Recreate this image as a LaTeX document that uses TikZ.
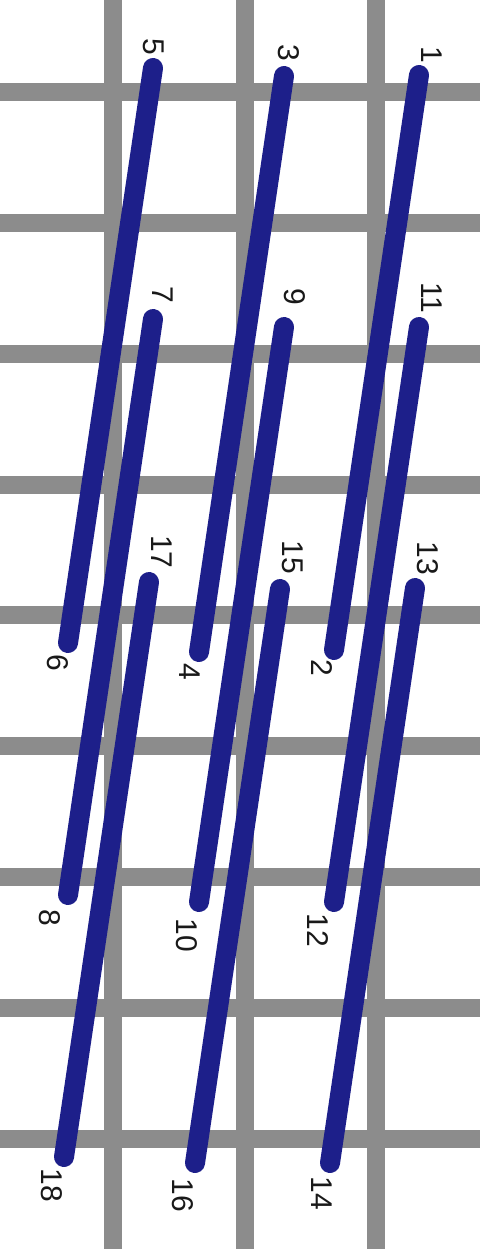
\documentclass[tikz,border=0pt]{standalone}
\usepackage{fontspec}
\setmainfont{Liberation Sans}
\definecolor{gridgray}{HTML}{8C8C8C}
\definecolor{barblue}{HTML}{1D1F8A}
\tikzset{
  gridline/.style={draw=gridgray, line width=18pt},
  bar/.style={draw=barblue, line width=20pt, line cap=round},
  lbl/.style={rotate=-90, font=\fontsize{30}{30}\selectfont, text=black!90, inner sep=0pt}
}
\begin{document}
\begin{tikzpicture}[x=1pt,y=-1pt]
\useasboundingbox (0,0) rectangle (480,1249);
\fill[white] (0,0) rectangle (480,1249);
% grid
\foreach \x in {113,245,376} \draw[gridline] (\x,0) -- (\x,1249);
\foreach \y in {92,223,354,485,615,746,877,1008,1139} \draw[gridline] (0,\y) -- (480,\y);
% endpoints
\coordinate (p1) at (419,75);  \coordinate (p2) at (334,650);
\coordinate (p3) at (284,76);  \coordinate (p4) at (199,652);
\coordinate (p5) at (153,68);  \coordinate (p6) at (68,643);
\coordinate (p7) at (153,319); \coordinate (p8) at (68,895);
\coordinate (p9) at (284,327); \coordinate (p10) at (199,902);
\coordinate (p11) at (419,327);\coordinate (p12) at (334,902);
\coordinate (p13) at (415,588);\coordinate (p14) at (330,1163);
\coordinate (p15) at (280,589);\coordinate (p16) at (195,1163);
\coordinate (p17) at (149,582);\coordinate (p18) at (64,1157);
\draw[bar] (p1) -- (p2);
\draw[bar] (p3) -- (p4);
\draw[bar] (p5) -- (p6);
\draw[bar] (p7) -- (p8);
\draw[bar] (p9) -- (p10);
\draw[bar] (p11) -- (p12);
\draw[bar] (p13) -- (p14);
\draw[bar] (p15) -- (p16);
\draw[bar] (p17) -- (p18);
% labels
\node[lbl] (l1) at (432,55) {1};
\node[lbl] (l2) at (322,668) {2};
\node[lbl] (l3) at (289,53) {3};
\node[lbl] (l4) at (190,672) {4};
\node[lbl] (l5) at (154,47) {5};
\node[lbl] (l6) at (58,663) {6};
\node[lbl] (l7) at (163,295) {7};
\node[lbl] (l8) at (50,918) {8};
\node[lbl] (l9) at (295,297) {9};
\node[lbl] (l10) at (187,935) {10};
\node[lbl] (l11) at (432,298) {11};
\node[lbl] (l12) at (318,930) {12};
\node[lbl] (l13) at (428,558) {13};
\node[lbl] (l14) at (322,1193) {14};
\node[lbl] (l15) at (293,557) {15};
\node[lbl] (l16) at (183,1195) {16};
\node[lbl] (l17) at (162,552) {17};
\node[lbl] (l18) at (52,1185) {18};
\end{tikzpicture}
\end{document}
